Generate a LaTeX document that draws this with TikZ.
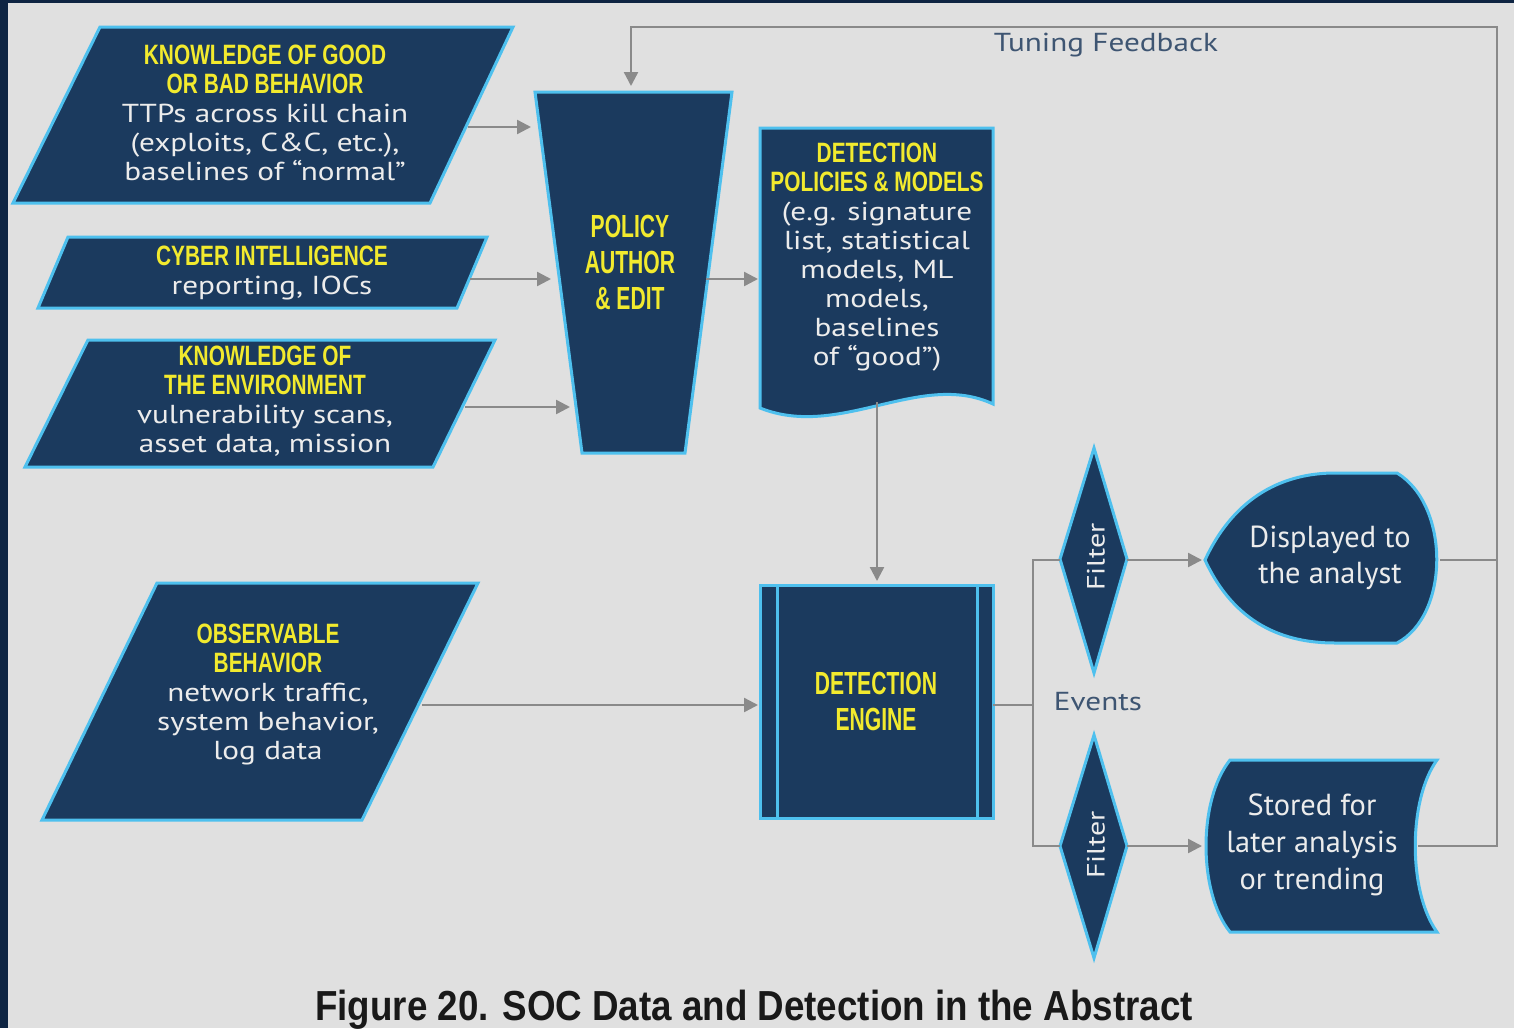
\documentclass[tikz,border=0pt]{standalone}
\usepackage{fontspec}
\setmainfont{PT Sans}
\newfontfamily\bodyfont[FakeStretch=1.2]{PT Sans}
\newfontfamily\headfont[FakeStretch=0.745]{Liberation Sans}
\newfontfamily\bigheadfont[FakeStretch=0.66]{Liberation Sans}
\newfontfamily\capfont[FakeStretch=0.875]{Liberation Sans}
\usetikzlibrary{arrows.meta}
\definecolor{socframe}{HTML}{0E2442}
\definecolor{socbg}{HTML}{E0E0E0}
\definecolor{socnavy}{HTML}{1B3A5E}
\definecolor{soccyan}{HTML}{4EC0EE}
\definecolor{socyellow}{HTML}{F2EA2E}
\definecolor{socwhite}{HTML}{ECECEC}
\definecolor{socgray}{HTML}{8A8A8A}
\definecolor{soclabel}{HTML}{3E5572}
\newcommand{\hdfont}{\headfont\bfseries\fontsize{14}{14.5}\selectfont\color{socyellow}}
\tikzset{
  shapebox/.style={fill=socnavy, draw=soccyan, line width=1.5pt, line join=miter},
  txt/.style={align=center, text=socwhite, inner sep=0pt, font=\bodyfont\fontsize{13}{14.5}\selectfont},
  bigtxt/.style={align=center, text=socwhite, inner sep=0pt, font=\fontsize{15.2}{18}\selectfont},
  bighead/.style={align=center, text=socyellow, inner sep=0pt, font=\bigheadfont\bfseries\fontsize{16}{18}\selectfont},
  filtertxt/.style={text=socwhite, rotate=90, inner sep=0pt, font=\bodyfont\fontsize{12.5}{14}\selectfont},
  conn/.style={draw=socgray, line width=1.2pt},
  arr/.style={conn, -{Triangle[length=7pt,width=7pt]}},
  lbl/.style={text=soclabel, inner sep=0pt, font=\bodyfont\fontsize{13}{16}\selectfont}
}
\begin{document}
\begin{tikzpicture}[x=0.5pt,y=-0.5pt]
\useasboundingbox (0,0) rectangle (1514,1028);
\fill[socframe] (0,0) rectangle (1514,1028);
\fill[socbg] (8,3) rectangle (1514,1028);

% input parallelograms
\path[shapebox] (100,27) -- (513,27) -- (430,203) -- (13,203) -- cycle;
\path[shapebox] (68,237) -- (487,237) -- (457,308) -- (38,308) -- cycle;
\path[shapebox] (88,340) -- (495,340) -- (433,467) -- (25,467) -- cycle;
\path[shapebox] (157,583) -- (478,583) -- (362,820) -- (42,820) -- cycle;

% policy author trapezoid
\path[shapebox] (535,92) -- (732,92) -- (685,453) -- (582,453) -- cycle;

% detection policies document
\path[shapebox] (760,128) -- (993,128) -- (993,404) .. controls (920,370) and (840,440) .. (760,408) -- cycle;

% detection engine
\path[shapebox] (760,585) rectangle (993,818);
\draw[soccyan, line width=1.5pt] (777,585) -- (777,818);
\draw[soccyan, line width=1.5pt] (977,585) -- (977,818);

% filters
\path[shapebox] (1094,448) -- (1127,559) -- (1094,673) -- (1060,559) -- cycle;
\path[shapebox] (1094,735) -- (1127,846) -- (1094,958) -- (1060,846) -- cycle;

% displayed
\path[shapebox] (1205,560) .. controls (1235,495) and (1285,473) .. (1335,473) -- (1397,473)
  .. controls (1450,505) and (1450,615) .. (1397,643) -- (1335,643)
  .. controls (1285,643) and (1235,625) .. cycle;

% stored
\path[shapebox] (1230,760) -- (1437,760) .. controls (1408,800) and (1408,892) .. (1437,932)
  -- (1230,932) .. controls (1198,892) and (1198,800) .. cycle;

% text nodes
\node[txt] (kgb) at (265,113) {{\hdfont KNOWLEDGE OF GOOD}\\{\hdfont OR BAD BEHAVIOR}\\TTPs across kill chain\\(exploits, C\&C, etc.),\\baselines of “normal”};
\node[txt] (ci) at (272,273) {{\hdfont CYBER INTELLIGENCE}\\reporting, IOCs};
\node[txt] (env) at (265,401) {{\hdfont KNOWLEDGE OF}\\{\hdfont THE ENVIRONMENT}\\vulnerability scans,\\asset data, mission};
\node[txt] (obs) at (268,694) {{\hdfont OBSERVABLE}\\{\hdfont BEHAVIOR}\\network traffic,\\system behavior,\\log data};
\node[bighead] (pae) at (630,262) {POLICY\\AUTHOR\\\&~EDIT};
\node[txt] (dpm) at (877,257) {{\hdfont DETECTION}\\{\hdfont POLICIES \& MODELS}\\(e.g. signature\\list, statistical\\models, ML\\models,\\baselines\\of “good”)};
\node[bighead] (eng) at (876,701) {DETECTION\\ENGINE};
\node[filtertxt] (f1) at (1096,557) {Filter};
\node[filtertxt] (f2) at (1096,845) {Filter};
\node[bigtxt] (disp) at (1330,558) {Displayed to\\the analyst};
\node[bigtxt, font=\fontsize{15.2}{18.5}\selectfont] (stor) at (1312,845) {Stored for\\later analysis\\or trending};
\node[lbl] (tf) at (1106,45) {Tuning Feedback};
\node[lbl] (ev) at (1098,702) {Events};
\node[text=black!90, inner sep=0pt, font=\capfont\bfseries\fontsize{21}{22}\selectfont] (cap) at (754,1010) {Figure 20. SOC Data and Detection in the Abstract};

% connector endpoints
\coordinate (kgbR) at (468,127);
\coordinate (paeA) at (531,127);
\coordinate (ciR) at (470,279);
\coordinate (paeB) at (551,279);
\coordinate (envR) at (465,407);
\coordinate (paeC) at (570,407);
\coordinate (paeR) at (706,279);
\coordinate (dpmL) at (758,279);
\coordinate (obsR) at (422,705);
\coordinate (engL) at (758,705);
\coordinate (dpmB) at (877,402);
\coordinate (engT) at (877,581);
\coordinate (engR) at (993,705);
\coordinate (split) at (1033,705);
\coordinate (f1L) at (1060,560);
\coordinate (f2L) at (1060,846);
\coordinate (f1R) at (1127,560);
\coordinate (f2R) at (1127,846);
\coordinate (dispL) at (1202,560);
\coordinate (storL) at (1202,846);
\coordinate (dispR) at (1440,560);
\coordinate (storR) at (1418,846);
\coordinate (fbR) at (1497,27);
\coordinate (paeT) at (631,86);

\draw[arr] (kgbR) -- (paeA);
\draw[arr] (ciR) -- (paeB);
\draw[arr] (envR) -- (paeC);
\draw[arr] (paeR) -- (dpmL);
\draw[arr] (obsR) -- (engL);
\draw[arr] (dpmB) -- (engT);
\draw[conn] (engR) -- (split);
\draw[conn] (f1L) -| (split) |- (f2L);
\draw[arr] (f1R) -- (dispL);
\draw[arr] (f2R) -- (storL);
\draw[conn] (dispR) -- (dispR -| fbR);
\draw[arr] (storR) -| (fbR) -| (paeT);
\end{tikzpicture}
\end{document}
